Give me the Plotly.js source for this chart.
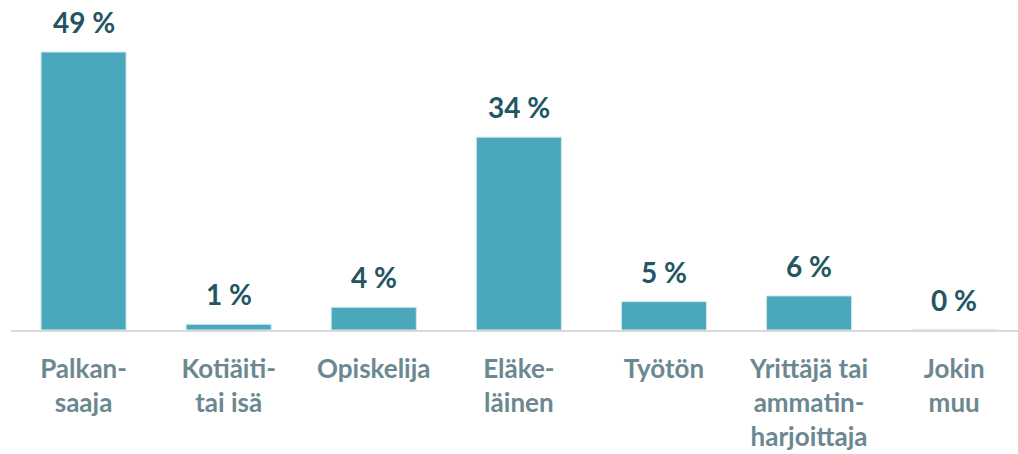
<!DOCTYPE html>
<html><head><meta charset="utf-8">
<script src="https://cdn.plot.ly/plotly-3.0.1.min.js"></script>
<style>html,body{margin:0;padding:0;background:#fff}#chart{width:1018px;height:454px}</style>
</head><body><div id="chart"></div>
<script>
const categories = ["Palkan-<br>saaja","Kotiäiti-<br>tai isä","Opiskelija","Eläke-<br>läinen","Työtön","Yrittäjä tai<br>ammatin-<br>harjoittaja","Jokin<br>muu"];
const values = [49, 1, 4, 34, 5, 6, 0];
const valueLabels = values.map(v => v + " %");

const trace = {
  type: "bar", x: categories, y: values,
  marker: {color: "#4ba7bc", line: {color: "#cde6ec", width: 1}},
  hoverinfo: "skip"
};
const annotations = categories.map((c, i) => ({
  x: c, y: values[i], xref: "x", yref: "y", text: valueLabels[i],
  showarrow: false, yanchor: "bottom", yshift: 11,
  font: {family: "Lato, sans-serif", size: 28, color: "#245563", weight: 700}
}));
const layout = {
  width: 1018, height: 454,
  margin: {l: 11, r: 0, t: 18, b: 124},
  paper_bgcolor: "#fff", plot_bgcolor: "#fff",
  bargap: 0.414, showlegend: false,
  xaxis: {type: "category", range: [-0.5, 6.44], showgrid: false, zeroline: false,
    showline: true, linecolor: "#d9d9d9", linewidth: 2, ticks: "", ticklabelstandoff: 15,
    tickfont: {family: "Lato, sans-serif", size: 26, color: "#6b8891", weight: 700}},
  yaxis: {range: [0, 55], visible: false, showgrid: false, zeroline: false},
  annotations: annotations
};
Plotly.newPlot("chart", [trace], layout, {displayModeBar: false, staticPlot: true});
</script></body></html>
